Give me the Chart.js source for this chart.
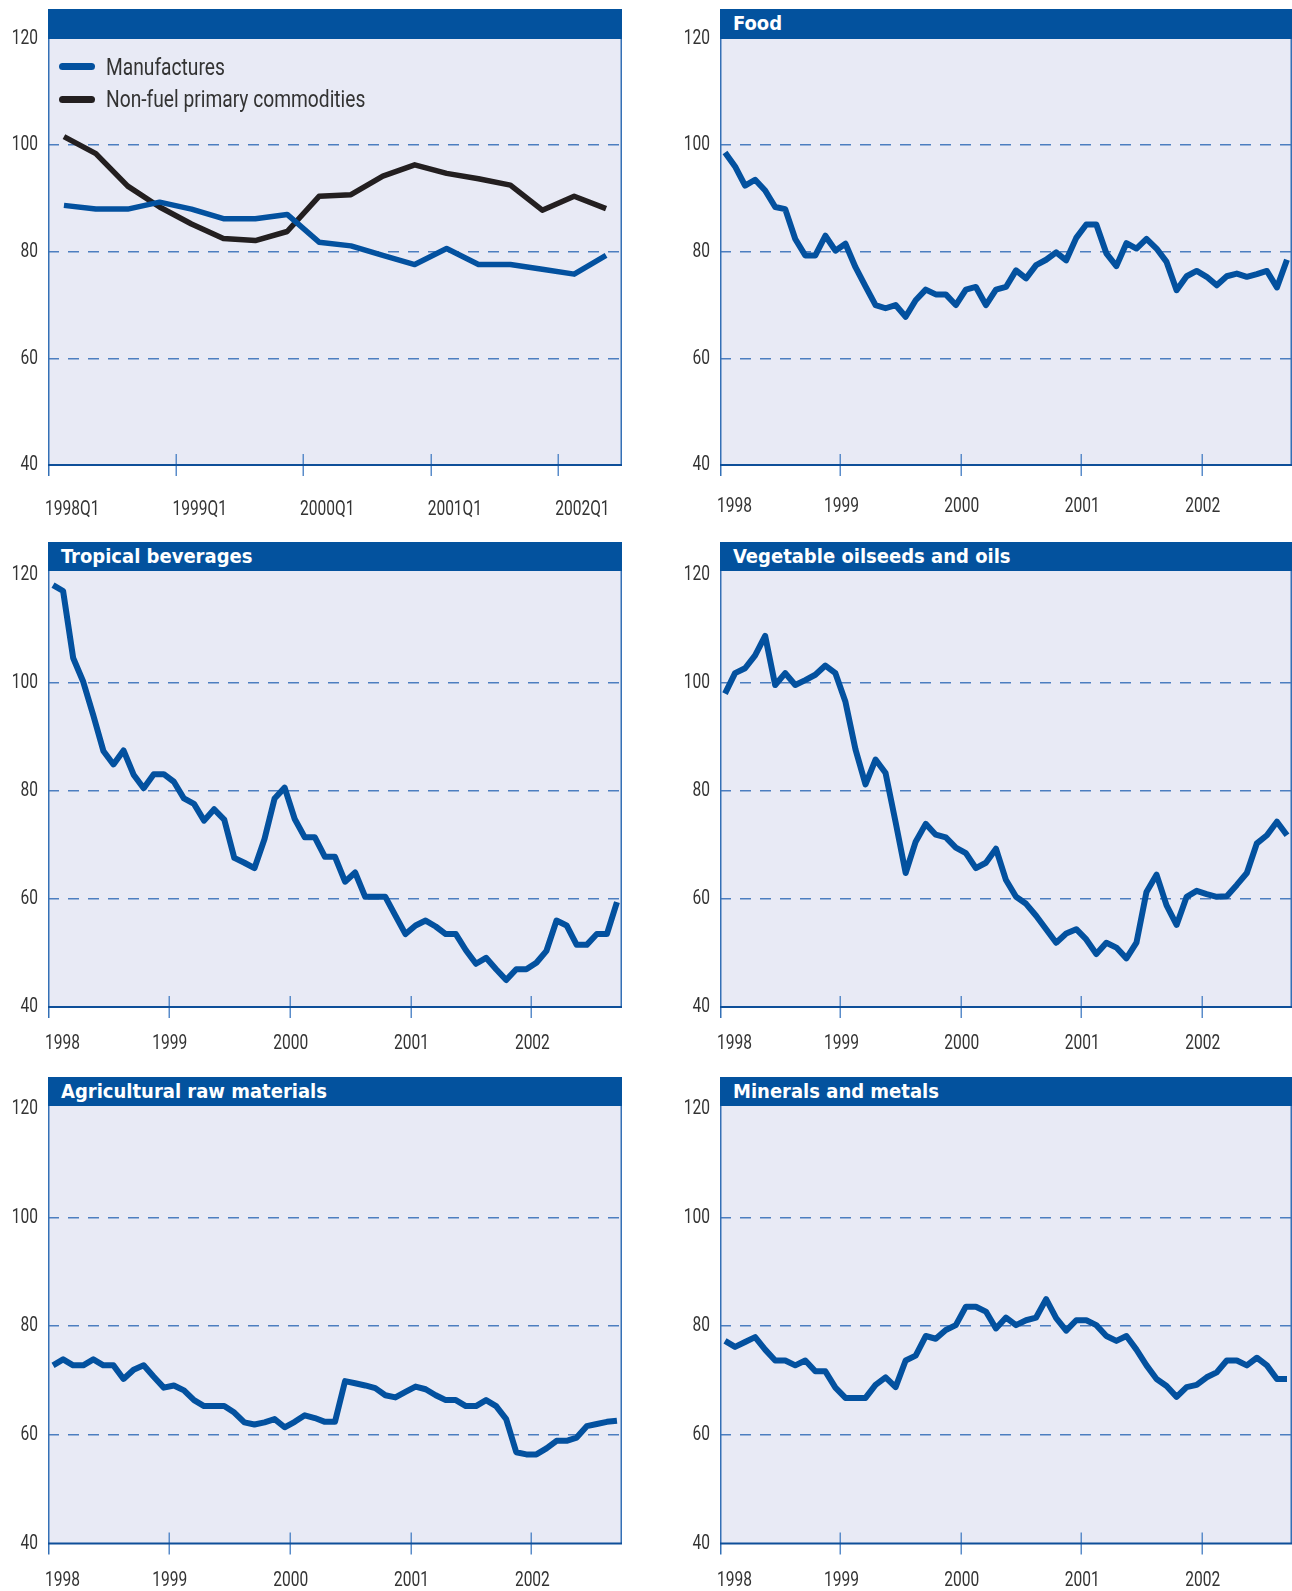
<!DOCTYPE html>
<html>
<head>
<meta charset="utf-8">
<script src="https://cdn.jsdelivr.net/npm/chart.js@4.4.1/dist/chart.umd.min.js"></script>
<style>
html, body { margin: 0; padding: 0; background: #fff; width: 1292px; height: 1591px; overflow: hidden; }
canvas { position: absolute; }
.head {
  position: absolute; background: #03529e; color: #fff; box-sizing: border-box;
  font-family: "DejaVu Sans Condensed", "DejaVu Sans", sans-serif; font-stretch: condensed;
  font-weight: bold; font-size: 20px; padding-left: 13px; white-space: nowrap; overflow: hidden;
}
.swatch { position: absolute; left: 59px; width: 36px; height: 7px; border-radius: 3.5px; }
.ltext {
  position: absolute; left: 106px; font-family: Roboto, sans-serif; font-weight: 400; font-size: 24px;
  color: #333; line-height: 34px; white-space: nowrap; transform: scaleX(0.8); transform-origin: 0 50%;
}
</style>
</head>
<body>
<div id="root"></div>
<script>
// ---- data ----
var quarterLabels = ['1998Q1', '1999Q1', '2000Q1', '2001Q1', '2002Q1'];
var yearLabels = ['1998', '1999', '2000', '2001', '2002'];
var yTicks = [40, 60, 80, 100, 120];

// quarterly, 1998Q1 - 2002Q2
var manufactures = [88.7, 88.0, 88.0, 89.3, 88.0, 86.2, 86.2, 87.0, 81.8, 81.1, 79.3, 77.6, 80.6, 77.6, 77.6, 76.7, 75.8, 79.3];
var nonFuel = [101.6, 98.4, 92.3, 88.4, 85.2, 82.5, 82.1, 83.8, 90.4, 90.7, 94.2, 96.3, 94.7, 93.7, 92.5, 87.8, 90.4, 88.1];

// monthly, Jan 1998 - Sep 2002
var food = [98.6, 96.0, 92.4, 93.5, 91.5, 88.4, 88.0, 82.4, 79.3, 79.3,
  83.0, 80.2, 81.5, 77.1, 73.5, 70.0, 69.4, 70.0, 67.8, 70.9,
  72.9, 72.0, 72.0, 70.0, 72.9, 73.4, 70.0, 72.9, 73.4, 76.5,
  75.0, 77.5, 78.5, 79.9, 78.4, 82.6, 85.1, 85.1, 79.7, 77.3,
  81.6, 80.6, 82.4, 80.6, 78.1, 72.8, 75.4, 76.4, 75.3, 73.7,
  75.4, 75.9, 75.3, 75.8, 76.4, 73.3, 78.5];
var tropicalBeverages = [118.1, 117.0, 104.6, 100.2, 94.0, 87.4, 84.9, 87.5, 83.0, 80.5,
  83.1, 83.1, 81.7, 78.6, 77.6, 74.5, 76.6, 74.7, 67.6, 66.7,
  65.7, 71.1, 78.6, 80.6, 74.8, 71.4, 71.4, 67.8, 67.8, 63.2,
  64.9, 60.4, 60.4, 60.4, 56.9, 53.5, 55.1, 56.0, 54.9, 53.5,
  53.5, 50.5, 48.0, 49.1, 47.0, 45.0, 47.0, 47.0, 48.2, 50.4,
  56.0, 55.1, 51.5, 51.5, 53.5, 53.5, 59.4];
var vegOils = [98.0, 101.8, 102.7, 105.1, 108.7, 99.6, 101.8, 99.6, 100.5, 101.5,
  103.2, 101.8, 96.5, 87.7, 81.2, 85.8, 83.3, 74.2, 64.8, 70.6,
  73.9, 71.9, 71.4, 69.5, 68.5, 65.7, 66.7, 69.3, 63.5, 60.4,
  59.1, 56.9, 54.4, 51.9, 53.6, 54.4, 52.5, 49.8, 51.9, 51.0,
  49.0, 51.9, 61.3, 64.5, 58.8, 55.2, 60.4, 61.5, 60.9, 60.4,
  60.5, 62.6, 64.8, 70.3, 71.8, 74.3, 71.8];
var agriRaw = [72.8, 73.9, 72.8, 72.8, 73.9, 72.8, 72.8, 70.3, 72.0, 72.8,
  70.7, 68.7, 69.1, 68.2, 66.4, 65.3, 65.3, 65.3, 64.1, 62.3,
  61.9, 62.3, 62.9, 61.4, 62.4, 63.6, 63.1, 62.4, 62.4, 69.9,
  69.5, 69.1, 68.6, 67.3, 66.9, 67.9, 68.9, 68.4, 67.3, 66.4,
  66.4, 65.3, 65.3, 66.4, 65.3, 62.9, 56.8, 56.4, 56.4, 57.5,
  58.9, 58.9, 59.5, 61.6, 62.0, 62.4, 62.6];
var minerals = [77.3, 76.2, 77.1, 78.0, 75.7, 73.7, 73.7, 72.8, 73.7, 71.7,
  71.7, 68.7, 66.8, 66.8, 66.8, 69.2, 70.6, 68.8, 73.7, 74.6,
  78.2, 77.7, 79.3, 80.2, 83.6, 83.6, 82.7, 79.6, 81.6, 80.2,
  81.1, 81.6, 85.0, 81.5, 79.2, 81.1, 81.1, 80.2, 78.2, 77.3,
  78.2, 75.7, 72.8, 70.3, 69.0, 67.0, 68.8, 69.2, 70.6, 71.5,
  73.7, 73.7, 72.8, 74.2, 72.8, 70.3, 70.3];

var blue = '#03519f';
var black = '#231f20';
var labelFont = '400 21px Roboto, sans-serif';
var narrow = 0.74;   // labels are a condensed face, squeeze Roboto

// points sit in the middle of their month / quarter
function toPoints(arr) {
  return arr.map(function (v, i) { return { x: i + 0.5, y: v }; });
}

function narrowText(ctx, text, x, y, align) {
  ctx.save();
  ctx.translate(x, y);
  ctx.scale(narrow, 1);
  ctx.textAlign = align;
  ctx.fillText(text, 0, 0);
  ctx.restore();
}

var framePlugin = {
  id: 'frame',
  beforeDraw: function (chart) {
    var a = chart.chartArea, ctx = chart.ctx;
    ctx.save();
    ctx.fillStyle = '#e8eaf5';
    ctx.fillRect(a.left, a.top, a.right - a.left, a.bottom - a.top);
    ctx.restore();
  },
  afterDraw: function (chart) {
    var a = chart.chartArea, ctx = chart.ctx;
    var o = chart.options.plugins.frame;
    var xs = chart.scales.x, ys = chart.scales.y;
    ctx.save();
    ctx.lineWidth = 1.5;
    ctx.strokeStyle = '#3470b6';
    ctx.beginPath();
    ctx.moveTo(a.left + 0.75, a.bottom + 11);
    ctx.lineTo(a.left + 0.75, a.top);
    ctx.moveTo(a.right - 0.75, a.top);
    ctx.lineTo(a.right - 0.75, a.bottom);
    ctx.stroke();

    ctx.strokeStyle = '#5a8cca';
    ctx.beginPath();
    o.tickValues.forEach(function (t, i) {
      if (i === 0) return;
      var x = Math.round(xs.getPixelForValue(t)) + 0.25;
      ctx.moveTo(x, a.bottom - 11);
      ctx.lineTo(x, a.bottom + 11);
    });
    ctx.stroke();

    ctx.strokeStyle = '#0e4f99';
    ctx.lineWidth = 2;
    ctx.beginPath();
    ctx.moveTo(a.left, a.bottom);
    ctx.lineTo(a.right, a.bottom);
    ctx.stroke();

    ctx.font = labelFont;
    ctx.fillStyle = '#333';
    ctx.textBaseline = 'middle';
    // x labels
    o.tickValues.forEach(function (t, i) {
      var x = xs.getPixelForValue(t);
      if (o.leftLabels || i === 0) {
        narrowText(ctx, o.tickLabels[i], x - 3, a.bottom + o.labelDy, 'left');
      } else {
        narrowText(ctx, o.tickLabels[i], x + 1, a.bottom + o.labelDy, 'center');
      }
    });
    // y labels
    yTicks.forEach(function (v) {
      narrowText(ctx, String(v), a.left - 10, ys.getPixelForValue(v), 'right');
    });
    ctx.restore();
  }
};

var yAxisW = 48;
var padTop = 26;
var padBottom = 60;

var panels = [
  { title: '', L: 48, R: 622, hTop: 9, hBot: 38.5, B: 465, yMax: 120, labelDy: 45, quarterly: true,
    sets: [{ label: 'Manufactures', data: manufactures, color: blue }, { label: 'Non-fuel primary commodities', data: nonFuel, color: black }] },
  { title: 'Food', L: 720, R: 1292, hTop: 9, hBot: 38.5, B: 465, yMax: 120, labelDy: 42,
    sets: [{ label: 'Food', data: food, color: blue }] },
  { title: 'Tropical beverages', L: 48, R: 622, hTop: 541.5, hBot: 570.5, B: 1007, yMax: 120.8, labelDy: 37,
    sets: [{ label: 'Tropical beverages', data: tropicalBeverages, color: blue }] },
  { title: 'Vegetable oilseeds and oils', L: 720, R: 1292, hTop: 541.5, hBot: 570.5, B: 1007, yMax: 120.8, labelDy: 37,
    sets: [{ label: 'Vegetable oilseeds and oils', data: vegOils, color: blue }] },
  { title: 'Agricultural raw materials', L: 48, R: 622, hTop: 1077, hBot: 1106, B: 1543.5, yMax: 120.55, labelDy: 37,
    sets: [{ label: 'Agricultural raw materials', data: agriRaw, color: blue }] },
  { title: 'Minerals and metals', L: 720, R: 1292, hTop: 1077, hBot: 1106, B: 1543.5, yMax: 120.55, labelDy: 37,
    sets: [{ label: 'Minerals and metals', data: minerals, color: blue }] }
];

var root = document.getElementById('root');

panels.forEach(function (p) {
  var cv = document.createElement('canvas');
  var top = Math.floor(p.hBot - padTop);
  cv.width = p.R - p.L + yAxisW;
  cv.height = Math.ceil(p.B - top + padBottom);
  cv.style.left = (p.L - yAxisW) + 'px';
  cv.style.top = top + 'px';
  root.appendChild(cv);

  var head = document.createElement('div');
  head.className = 'head';
  head.style.left = p.L + 'px';
  head.style.top = p.hTop + 'px';
  head.style.width = (p.R - p.L) + 'px';
  head.style.height = (p.hBot - p.hTop) + 'px';
  head.style.lineHeight = (p.hBot - p.hTop) + 'px';
  head.textContent = p.title;
  root.appendChild(head);

  var tickLabels = p.quarterly ? quarterLabels : yearLabels;
  var perYear = p.quarterly ? 4 : 12;

  new Chart(cv, {
    type: 'line',
    data: {
      datasets: p.sets.map(function (s) {
        return {
          label: s.label,
          data: toPoints(s.data),
          borderColor: s.color,
          borderWidth: p.quarterly ? 5.5 : 6,
          borderJoinStyle: 'round',
          pointRadius: 0,
          tension: 0,
          fill: false
        };
      })
    },
    options: {
      responsive: false,
      animation: false,
      layout: { padding: { top: p.hBot - top, bottom: cv.height - (p.B - top), left: 0, right: 0 } },
      plugins: {
        legend: { display: false },
        tooltip: { enabled: false },
        frame: {
          tickValues: tickLabels.map(function (l, i) { return i * perYear; }),
          tickLabels: tickLabels,
          leftLabels: !!p.quarterly,
          labelDy: p.labelDy
        }
      },
      scales: {
        x: { type: 'linear', min: 0, max: p.quarterly ? 18 : 57, display: false },
        y: {
          min: 40, max: p.yMax,
          afterBuildTicks: function (s) { s.ticks = yTicks.map(function (v) { return { value: v }; }); },
          afterFit: function (s) { s.width = yAxisW; },
          grid: {
            drawTicks: false,
            lineWidth: 1.5,
            color: function (c) {
              var v = c.tick && c.tick.value;
              return (v === 60 || v === 80 || v === 100) ? '#4c7ec0' : 'rgba(0,0,0,0)';
            }
          },
          border: { display: false, dash: [11, 9] },
          ticks: { display: false, padding: 0 }
        }
      }
    },
    plugins: [framePlugin]
  });
});

// legend of the first panel
var legendRows = [
  { label: 'Manufactures', color: blue, cy: 66.5 },
  { label: 'Non-fuel primary commodities', color: black, cy: 99 }
];
legendRows.forEach(function (r) {
  var sw = document.createElement('div');
  sw.className = 'swatch';
  sw.style.background = r.color;
  sw.style.top = (r.cy - 3.5) + 'px';
  root.appendChild(sw);
  var t = document.createElement('div');
  t.className = 'ltext';
  t.style.top = (r.cy - 17) + 'px';
  t.textContent = r.label;
  root.appendChild(t);
});
</script>
</body>
</html>
